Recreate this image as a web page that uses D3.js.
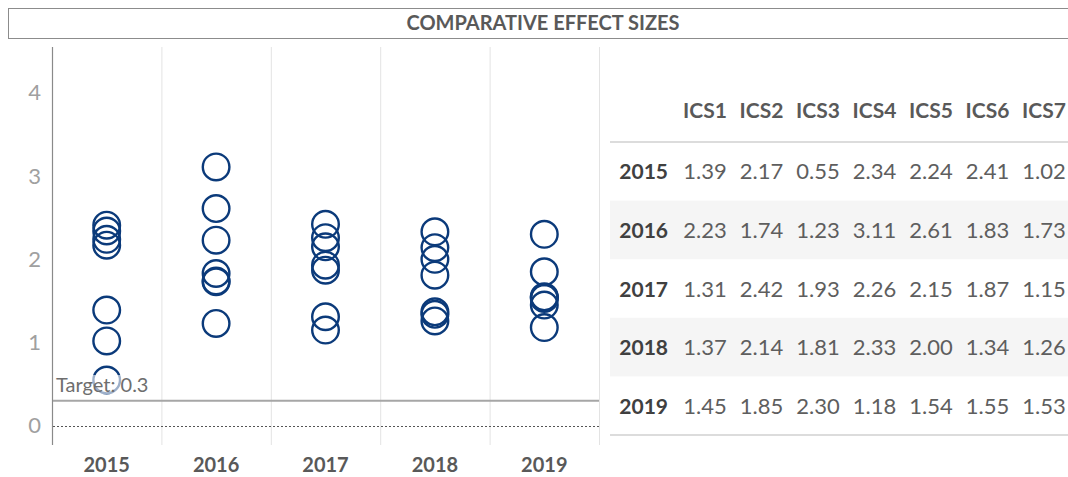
<!DOCTYPE html>
<html>
<head>
  <meta charset="utf-8">
  <title>Comparative effect sizes</title>
  <style>
    body { margin: 0; background: #fff; }
    svg text { font-family: Lato, "Open Sans", sans-serif; }
  </style>
</head>
<body>
  <script src="https://d3js.org/d3.v7.min.js"></script>
  <script type="text/javascript">
    var years = ['2015', '2016', '2017', '2018', '2019'];
    var measures = ['ICS1', 'ICS2', 'ICS3', 'ICS4', 'ICS5', 'ICS6', 'ICS7'];
    var ics1 = [1.39, 2.23, 1.31, 1.37, 1.45];
    var ics2 = [2.17, 1.74, 2.42, 2.14, 1.85];
    var ics3 = [0.55, 1.23, 1.93, 1.81, 2.30];
    var ics4 = [2.34, 3.11, 2.26, 2.33, 1.18];
    var ics5 = [2.24, 2.61, 2.15, 2.00, 1.54];
    var ics6 = [2.41, 1.83, 1.87, 1.34, 1.55];
    var ics7 = [1.02, 1.73, 1.15, 1.26, 1.53];
    var yTicks = [0, 1, 2, 3, 4];
    var target = 0.3;
    var targetLabel = 'Target: 0.3';
    var title = 'COMPARATIVE EFFECT SIZES';

    var series = [ics1, ics2, ics3, ics4, ics5, ics6, ics7];

    var svgW = 1068;
    var svgH = 477;

    var svg = d3.select('body').append('svg')
      .attr('width', svgW).attr('height', svgH);

    // title box
    svg.append('rect')
      .attr('x', 8.5).attr('y', 8.5)
      .attr('width', 1070).attr('height', 30)
      .attr('fill', '#fff').attr('stroke', '#8c8c8c').attr('stroke-width', 1);
    svg.append('text')
      .attr('x', 543).attr('y', 30)
      .attr('text-anchor', 'middle')
      .attr('font-size', '20px').attr('font-weight', 'bold')
      .attr('fill', '#595959')
      .text(title);

    // scales
    var x = d3.scaleBand().domain(years).range([52, 599]);
    var y = d3.scaleLinear().domain([-0.23, 4.55]).range([445, 47]);

    // vertical gridlines between years
    svg.append('g').selectAll('line').data(years.slice(1)).enter().append('line')
      .attr('x1', function(d) { return x(d) + 0.5; })
      .attr('x2', function(d) { return x(d) + 0.5; })
      .attr('y1', y.range()[1]).attr('y2', y.range()[0])
      .attr('stroke', '#e3e3e3').attr('stroke-width', 1);
    svg.append('line')
      .attr('x1', 599.5).attr('x2', 599.5)
      .attr('y1', y.range()[1]).attr('y2', y.range()[0])
      .attr('stroke', '#e3e3e3');

    // y axis
    var yAxis = svg.append('g')
      .attr('transform', 'translate(41,0)')
      .call(d3.axisLeft(y).tickValues(yTicks).tickSize(0).tickPadding(0).tickFormat(d3.format('d')));
    yAxis.select('.domain').remove();
    yAxis.selectAll('text')
      .attr('font-size', '22px').attr('fill', '#a0a0a0')
      .attr('font-family', 'Lato, "Open Sans", sans-serif');

    svg.append('line')
      .attr('x1', 52.5).attr('x2', 52.5)
      .attr('y1', y.range()[1]).attr('y2', y.range()[0])
      .attr('stroke', '#8a8a8a').attr('stroke-width', 1.2);

    // zero line (dotted)
    svg.append('line')
      .attr('x1', 53).attr('x2', 599)
      .attr('y1', Math.round(y(0)) + 0.5).attr('y2', Math.round(y(0)) + 0.5)
      .attr('stroke', '#555').attr('stroke-width', 1)
      .attr('stroke-dasharray', '2,2');

    // target line
    svg.append('line')
      .attr('x1', 53).attr('x2', 599)
      .attr('y1', y(target)).attr('y2', y(target))
      .attr('stroke', '#a6a6a6').attr('stroke-width', 2);

    // x axis labels
    var xAxis = svg.append('g')
      .attr('transform', 'translate(0,458)')
      .call(d3.axisBottom(x).tickSize(0).tickPadding(0));
    xAxis.select('.domain').remove();
    xAxis.selectAll('text')
      .attr('font-size', '20px').attr('font-weight', 'bold').attr('fill', '#595959')
      .attr('font-family', 'Lato, "Open Sans", sans-serif');

    // circles
    var points = [];
    series.forEach(function(vals, s) {
      vals.forEach(function(v, i) {
        points.push({ year: years[i], value: v, ics: measures[s] });
      });
    });
    svg.append('g').selectAll('circle').data(points).enter().append('circle')
      .attr('cx', function(d) { return x(d.year) + x.bandwidth() / 2; })
      .attr('cy', function(d) { return y(d.value); })
      .attr('r', 13.3)
      .attr('fill', 'none')
      .attr('stroke', '#0b3a7a')
      .attr('stroke-width', 2.4);

    // target label with translucent background
    var lab = svg.append('g');
    var labText = lab.append('text')
      .attr('x', 56).attr('y', 392)
      .attr('font-size', '20px').attr('fill', '#6e6e6e')
      .text(targetLabel);
    var bb = labText.node().getBBox();
    lab.insert('rect', 'text')
      .attr('x', bb.x - 1).attr('y', bb.y + 3)
      .attr('width', bb.width + 2).attr('height', bb.height - 5)
      .attr('fill', '#fff').attr('opacity', 0.6);

    // table
    var colX = d3.scalePoint().domain(measures).range([705, 1044]);
    var rowY = d3.scaleBand().domain(years).range([142, 435]);

    var tbl = svg.append('g');
    tbl.selectAll('rect.band').data(years.filter(function(d, i) { return i % 2 === 1; }))
      .enter().append('rect')
      .attr('class', 'band')
      .attr('x', 610).attr('width', 458)
      .attr('y', function(d) { return rowY(d); })
      .attr('height', rowY.bandwidth())
      .attr('fill', '#f5f5f5');

    tbl.append('line')
      .attr('x1', 610).attr('x2', 1068).attr('y1', 142).attr('y2', 142)
      .attr('stroke', '#dcdcdc').attr('stroke-width', 2);
    tbl.append('line')
      .attr('x1', 610).attr('x2', 1068).attr('y1', 435).attr('y2', 435)
      .attr('stroke', '#dcdcdc').attr('stroke-width', 2);

    tbl.selectAll('text.head').data(measures).enter().append('text')
      .attr('class', 'head')
      .attr('x', function(d) { return colX(d); })
      .attr('y', 118)
      .attr('text-anchor', 'middle')
      .attr('font-size', '21px').attr('font-weight', 'bold').attr('fill', '#595959')
      .text(function(d) { return d; });

    tbl.selectAll('text.year').data(years).enter().append('text')
      .attr('class', 'year')
      .attr('x', 668)
      .attr('y', function(d) { return rowY(d) + rowY.bandwidth() / 2 + 8; })
      .attr('text-anchor', 'end')
      .attr('font-size', '21px').attr('font-weight', 'bold').attr('fill', '#404040')
      .text(function(d) { return d; });

    tbl.selectAll('text.val').data(points).enter().append('text')
      .attr('class', 'val')
      .attr('x', function(d) { return colX(d.ics); })
      .attr('y', function(d) { return rowY(d.year) + rowY.bandwidth() / 2 + 8; })
      .attr('text-anchor', 'middle')
      .attr('font-size', '22px').attr('fill', '#5e5e5e')
      .text(function(d) { return d.value.toFixed(2); });
  </script>
</body>
</html>
